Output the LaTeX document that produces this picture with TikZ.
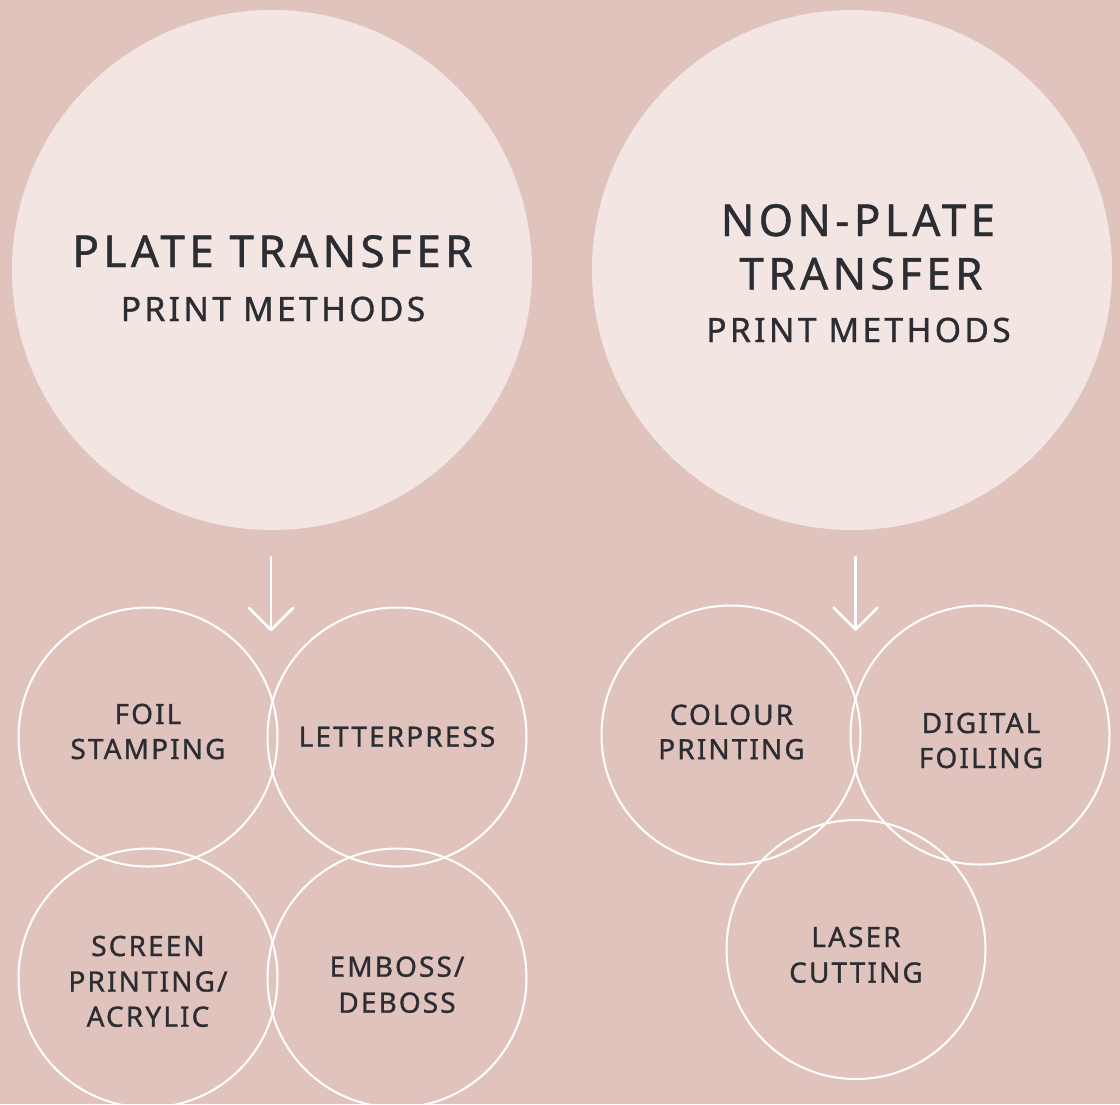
\documentclass[tikz,border=0pt]{standalone}
\usepackage{fontspec}
\setmainfont{Noto Sans}
\newfontfamily\titlefont[LetterSpace=10,FakeBold=1]{Noto Sans}
\newfontfamily\labelfont[LetterSpace=7.5,FakeBold=1]{Noto Sans}
\definecolor{backdrop}{HTML}{E1C3BE}
\definecolor{bigfill}{HTML}{F2E5E2}
\definecolor{ink}{HTML}{2B2D32}
\tikzset{
  bigcircle/.style={circle, fill=bigfill, minimum size=520pt, inner sep=0pt},
  smallcircle/.style={circle, draw=white, line width=2pt, minimum size=259pt, inner sep=0pt},
  title/.style={anchor=base, inner sep=0pt, text=ink, font=\titlefont\fontsize{44}{54}\selectfont},
  subtitle/.style={anchor=base, inner sep=0pt, text=ink, font=\titlefont\fontsize{33.6}{40}\selectfont},
  method/.style={anchor=base, inner sep=0pt, text=ink, font=\labelfont\fontsize{28}{35}\selectfont},
  downarrow/.style={draw=white, line width=2.5pt, line cap=round, line join=round}
}
\begin{document}
\begin{tikzpicture}[x=1pt, y=-1pt]
\useasboundingbox (0,0) rectangle (1120,1104);
\fill[backdrop] (0,0) rectangle (1120,1104);
\clip (0,0) rectangle (1120,1104);

% the two families of print methods
\node[bigcircle] (plate) at (272,270) {};
\node[bigcircle] (nonplate) at (852,270) {};

\node[title] (plateA) at (272.5,267) {PLATE TRANSFER};
\node[subtitle] (plateB) at (273,321) {PRINT METHODS};

\node[title] (nonplateA) at (858,236) {NON-PLATE};
\node[title] (nonplateB) at (861,289.5) {TRANSFER};
\node[subtitle] (nonplateC) at (858.5,342) {PRINT METHODS};

% arrows leading down to the individual methods
\coordinate (arrowLtop) at (271,557);
\coordinate (arrowLtip) at (271,630);
\coordinate (arrowRtop) at (855.5,557);
\coordinate (arrowRtip) at (855.5,629.5);
\draw[downarrow] (arrowLtop) -- (arrowLtip);
\draw[downarrow] (arrowLtip) ++(-22,-22) -- (arrowLtip) -- ++(22,-22);
\draw[downarrow] (arrowRtop) -- (arrowRtip);
\draw[downarrow] (arrowRtip) ++(-22,-22) -- (arrowRtip) -- ++(22,-22);

% plate transfer methods
\node[smallcircle] (foil) at (148,737) {};
\node[smallcircle] (letterpress) at (397,737) {};
\node[smallcircle] (screen) at (148,978) {};
\node[smallcircle] (emboss) at (397,978) {};

\node[method] (foilA) at (148,724) {FOIL};
\node[method] (foilB) at (148,759) {STAMPING};
\node[method] (letterA) at (397,746.7) {LETTERPRESS};
\node[method] (screenA) at (148,956) {SCREEN};
\node[method] (screenB) at (148,991.5) {PRINTING/};
\node[method] (screenC) at (148,1026.7) {ACRYLIC};
\node[method] (embossA) at (397,976.7) {EMBOSS/};
\node[method] (embossB) at (397,1012.7) {DEBOSS};

% non-plate transfer methods
\node[smallcircle] (colour) at (731,735) {};
\node[smallcircle] (digital) at (980,735) {};
\node[smallcircle] (laser) at (856,949.5) {};

\node[method] (colourA) at (731.5,724.8) {COLOUR};
\node[method] (colourB) at (731.5,759.2) {PRINTING};
\node[method] (digitalA) at (981,733) {DIGITAL};
\node[method] (digitalB) at (981,768) {FOILING};
\node[method] (laserA) at (856,947) {LASER};
\node[method] (laserB) at (856,982.6) {CUTTING};
\end{tikzpicture}
\end{document}
